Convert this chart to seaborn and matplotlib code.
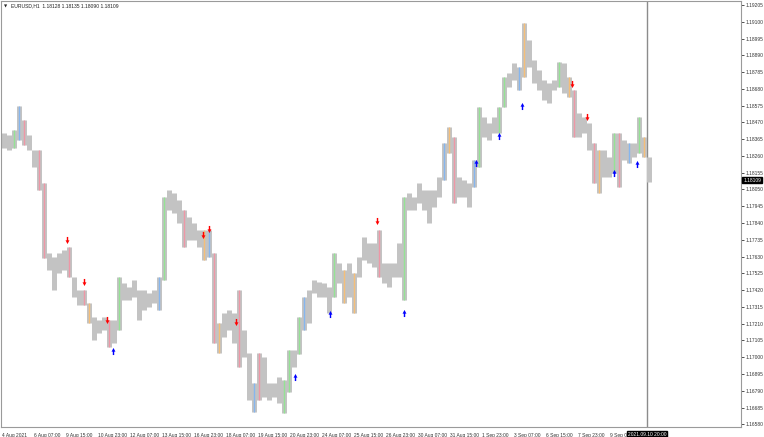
import numpy as np
import pandas as pd
import matplotlib
matplotlib.use("Agg")
import matplotlib.pyplot as plt
import matplotlib.transforms as mtransforms
from matplotlib.path import Path
import seaborn as sns

# EURUSD H1 in blocks of 5 bars (high / low of each block)
high = [1.18403, 1.18391, 1.18422, 1.18572, 1.18485, 1.18391, 1.18297, 1.18297, 1.18090, 1.17652,
        1.17627, 1.17652, 1.17671, 1.17690, 1.17502, 1.17420, 1.17420, 1.17339, 1.17251, 1.17232,
        1.17251, 1.17232, 1.17232, 1.17502, 1.17464, 1.17439, 1.17483, 1.17420, 1.17420, 1.17402,
        1.17420, 1.17502, 1.18003, 1.18046, 1.18028, 1.17984, 1.17921, 1.17877, 1.17840, 1.17796,
        1.17796, 1.17796, 1.17652, 1.17214, 1.17276, 1.17295, 1.17276, 1.17420, 1.17170, 1.17026,
        1.16838, 1.17026, 1.17001, 1.16838, 1.16838, 1.16876, 1.16857, 1.17045, 1.17045, 1.17251,
        1.17377, 1.17420, 1.17483, 1.17470, 1.17464, 1.17439, 1.17652, 1.17589, 1.17546, 1.17589,
        1.17527, 1.17627, 1.17752, 1.17715, 1.17715, 1.17796, 1.17589, 1.17589, 1.17589, 1.17715,
        1.18003, 1.18028, 1.18003, 1.18090, 1.18046, 1.18046, 1.18046, 1.18128, 1.18341, 1.18441,
        1.18378, 1.18128, 1.18109, 1.18090, 1.18234, 1.18566, 1.18503, 1.18466, 1.18503, 1.18566,
        1.18754, 1.18779, 1.18842, 1.18817, 1.19092, 1.18986, 1.18860, 1.18798, 1.18735, 1.18716,
        1.18735, 1.18848, 1.18842, 1.18754, 1.18673, 1.18528, 1.18503, 1.18466, 1.18341, 1.18297,
        1.18297, 1.18253, 1.18403, 1.18403, 1.18359, 1.18341, 1.18341, 1.18503, 1.18378, 1.18253]
low = [1.18309, 1.18297, 1.18309, 1.18359, 1.18328, 1.18297, 1.18190, 1.18046, 1.17621, 1.17546,
       1.17420, 1.17527, 1.17546, 1.17502, 1.17377, 1.17326, 1.17326, 1.17214, 1.17107, 1.17151,
       1.17170, 1.17063, 1.17089, 1.17170, 1.17358, 1.17358, 1.17377, 1.17232, 1.17295, 1.17314,
       1.17339, 1.17295, 1.17483, 1.17921, 1.17902, 1.17840, 1.17690, 1.17733, 1.17733, 1.17690,
       1.17608, 1.17627, 1.17089, 1.17026, 1.17126, 1.17170, 1.17089, 1.16938, 1.17001, 1.16732,
       1.16656, 1.16732, 1.16750, 1.16732, 1.16750, 1.16713, 1.16650, 1.16780, 1.16938, 1.17020,
       1.17170, 1.17214, 1.17402, 1.17377, 1.17377, 1.17276, 1.17377, 1.17464, 1.17339, 1.17377,
       1.17276, 1.17502, 1.17610, 1.17589, 1.17564, 1.17502, 1.17464, 1.17439, 1.17502, 1.17502,
       1.17358, 1.17921, 1.17921, 1.17965, 1.17921, 1.17840, 1.17940, 1.18003, 1.18110, 1.18278,
       1.17965, 1.18003, 1.18003, 1.17940, 1.18065, 1.18190, 1.18378, 1.18359, 1.18403, 1.18403,
       1.18566, 1.18691, 1.18735, 1.18673, 1.18754, 1.18817, 1.18716, 1.18673, 1.18610, 1.18591,
       1.18673, 1.18691, 1.18654, 1.18629, 1.18378, 1.18378, 1.18403, 1.18297, 1.18090, 1.18028,
       1.18128, 1.18128, 1.18153, 1.18065, 1.18234, 1.18215, 1.18253, 1.18278, 1.18253, 1.18096]

# blocks where the indicator paints bars in colour
accent = {2: "green", 3: "blue", 4: "pink", 7: "pink", 8: "pink", 13: "pink", 16: "pink",
          17: "orange", 21: "pink", 23: "green", 31: "blue", 32: "green", 36: "pink",
          40: "orange", 41: "blue", 42: "pink", 43: "orange", 47: "pink", 50: "blue",
          51: "pink", 56: "green", 57: "green", 59: "green", 60: "blue", 66: "green",
          68: "orange", 70: "orange", 75: "pink", 80: "green", 88: "blue", 89: "orange",
          90: "pink", 94: "blue", 95: "green", 99: "green", 100: "green", 103: "blue",
          104: "orange", 111: "green", 113: "orange", 114: "pink", 118: "pink", 119: "orange",
          122: "green", 123: "pink", 125: "blue", 127: "green", 128: "orange"}
palette = {"green": "#94e294", "pink": "#ee97a6", "blue": "#86b6ee", "orange": "#f5be78"}

# signal arrows (bar index, price)
sell_bar = [66, 83, 106, 202, 208, 235, 376, 571, 586]
sell_price = [1.17733, 1.17470, 1.17232, 1.17765, 1.17802, 1.17220, 1.17852, 1.18710, 1.18503]
buy_bar = [112, 294, 329, 403, 475, 498, 521, 613, 636]
buy_price = [1.17038, 1.16876, 1.17270, 1.17276, 1.18215, 1.18385, 1.18572, 1.18153, 1.18209]

time_labels = ["4 Aug 2021", "6 Aug 07:00", "9 Aug 15:00", "10 Aug 23:00", "12 Aug 07:00",
               "13 Aug 15:00", "16 Aug 23:00", "18 Aug 07:00", "19 Aug 15:00", "20 Aug 23:00",
               "24 Aug 07:00", "25 Aug 15:00", "26 Aug 23:00", "30 Aug 07:00", "31 Aug 15:00",
               "1 Sep 23:00", "3 Sep 07:00", "6 Sep 15:00", "7 Sep 23:00", "9 Sep 07:00"]
price_labels = ["1.16580", "1.16685", "1.16790", "1.16895", "1.17000", "1.17105", "1.17210",
                "1.17315", "1.17420", "1.17525", "1.17630", "1.17735", "1.17840", "1.17945",
                "1.18050", "1.18155", "1.18260", "1.18365", "1.18470", "1.18575", "1.18680",
                "1.18785", "1.18890", "1.18995", "1.19100", "1.19205"]
last_price = "1.18109"
cursor_label = "2021.09.10 20:00"
header = "EURUSD,H1  1.18128 1.18135 1.18090 1.18109"

sns.set_style("white")
plt.rcParams["font.family"] = ["Liberation Sans", "DejaVu Sans"]

df = pd.DataFrame({"bar": np.arange(len(high)) * 5 + 2.5, "high": high, "low": low})

fig = plt.figure(figsize=(7.64, 4.37), dpi=100)
ax = fig.add_axes([1 / 764, 10 / 437, 740 / 764, 426 / 437])

ax.vlines(df.bar, df.low, df.high, colors="#c3c3c3", linewidth=3.6, zorder=2)
for i, c in accent.items():
    ax.vlines(df.bar[i], df.low[i], df.high[i], colors=palette[c], linewidth=1.0, zorder=3)

down = Path([(-0.2, 1), (0.2, 1), (0.2, 0.05), (0.55, 0.05), (0, -1), (-0.55, 0.05),
             (-0.2, 0.05), (-0.2, 1)], closed=True)
up = Path([(x, -y) for x, y in down.vertices], closed=True)
sns.scatterplot(x=sell_bar, y=sell_price, marker=down, s=26, color="#ff0000",
                linewidth=0, ax=ax, zorder=4)
sns.scatterplot(x=buy_bar, y=buy_price, marker=up, s=26, color="#0000ff",
                linewidth=0, ax=ax, zorder=4)

ax.axvline(646, color="#8c8c8c", linewidth=1.0, zorder=1)

ax.set_xlim(0, 740)
ax.set_ylim(1.16563, 1.19230)

ax.set_xticks(np.arange(len(time_labels)) * 32)
ax.set_xticklabels(time_labels)
ax.set_yticks([float(p) for p in price_labels])
ax.set_yticklabels(price_labels)
ax.yaxis.tick_right()
ax.tick_params(axis="x", length=2.5, width=0.6, pad=1.5, labelsize=3.5, colors="#333333")
ax.tick_params(axis="y", length=2.5, width=0.6, pad=1.0, labelsize=3.5, colors="#333333")
shift = mtransforms.ScaledTranslation(1.5 / 100, 0, fig.dpi_scale_trans)
for lbl in ax.get_xticklabels():
    lbl.set_ha("left")
    lbl.set_transform(lbl.get_transform() + shift)

for s in ax.spines.values():
    s.set_color("#9a9a9a")
    s.set_linewidth(0.8)

ax.text(646, -0.011, cursor_label, transform=ax.get_xaxis_transform(), ha="center", va="top",
        fontsize=3.5, color="white", zorder=6, clip_on=False,
        bbox=dict(boxstyle="square,pad=0.2", fc="black", ec="black"))
ax.text(1.003, 1.18109, last_price, transform=ax.get_yaxis_transform(), ha="left",
        va="center", fontsize=3.5, color="white", clip_on=False,
        bbox=dict(boxstyle="square,pad=0.15", fc="black", ec="black"))
ax.text(0.004, 0.988, "\u25bc", transform=ax.transAxes, fontsize=3.0, color="#222222",
        va="center", family="DejaVu Sans")
ax.text(0.013, 0.988, header, transform=ax.transAxes, fontsize=3.6, color="#222222",
        va="center")

fig.savefig("out.png", dpi=100)
